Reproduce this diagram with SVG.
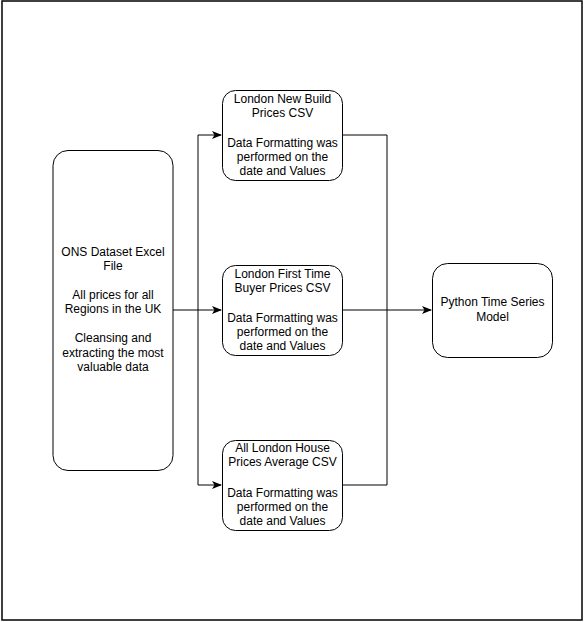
<svg xmlns="http://www.w3.org/2000/svg" width="585" height="622" viewBox="0 0 585 622">
<style>
.n{fill:#fff;stroke:#000;stroke-width:1}
.t{font-family:"Liberation Sans",Arial,sans-serif;font-size:12px;fill:#000;text-anchor:middle}
.c{fill:none;stroke:#000;stroke-width:1}
</style>
<defs>
<marker id="a" markerWidth="10" markerHeight="8" refX="9" refY="4" orient="auto" markerUnits="userSpaceOnUse">
<path d="M0,0 L10,4 L0,8 L2.5,4 Z" fill="#000"/>
</marker>
</defs>
<rect x="2" y="1" width="580" height="619" fill="#fff" stroke="#000" stroke-width="1.5"/>
<g id="connectors">
<path class="c" d="M173,310 H198"/>
<path class="c" d="M198,135 V485"/>
<path class="c" d="M198,135 H221" marker-end="url(#a)"/>
<path class="c" d="M198,310 H221" marker-end="url(#a)"/>
<path class="c" d="M198,485 H221" marker-end="url(#a)"/>
<path class="c" d="M342,135 H387 V485 H342"/>
<path class="c" d="M342,310 H431" marker-end="url(#a)"/>
</g>
<g id="ons">
<rect class="n" x="53" y="150.5" width="120" height="320" rx="15"/>
<text class="t" x="113" y="256">ONS Dataset Excel</text>
<text class="t" x="113" y="270">File</text>
<text class="t" x="113" y="299">All prices for all</text>
<text class="t" x="113" y="313">Regions in the UK</text>
<text class="t" x="113" y="342">Cleansing and</text>
<text class="t" x="113" y="357">extracting the most</text>
<text class="t" x="113" y="371">valuable data</text>
</g>
<g id="newbuild">
<rect class="n" x="222.5" y="90.5" width="120" height="90" rx="13"/>
<text class="t" x="282.5" y="103">London New Build</text>
<text class="t" x="282.5" y="117">Prices CSV</text>
<text class="t" x="282.5" y="147">Data Formatting was</text>
<text class="t" x="282.5" y="161">performed on the</text>
<text class="t" x="282.5" y="175">date and Values</text>
</g>
<g id="firsttime">
<rect class="n" x="222.5" y="265.5" width="120" height="90" rx="13"/>
<text class="t" x="282.5" y="278">London First Time</text>
<text class="t" x="282.5" y="292">Buyer Prices CSV</text>
<text class="t" x="282.5" y="322">Data Formatting was</text>
<text class="t" x="282.5" y="336">performed on the</text>
<text class="t" x="282.5" y="350">date and Values</text>
</g>
<g id="average">
<rect class="n" x="222.5" y="440.5" width="120" height="90" rx="13"/>
<text class="t" x="282.5" y="452">All London House</text>
<text class="t" x="282.5" y="466">Prices Average CSV</text>
<text class="t" x="282.5" y="497">Data Formatting was</text>
<text class="t" x="282.5" y="511">performed on the</text>
<text class="t" x="282.5" y="525">date and Values</text>
</g>
<g id="python">
<rect class="n" x="432.5" y="263.5" width="120" height="94" rx="15"/>
<text class="t" x="492.5" y="306">Python Time Series</text>
<text class="t" x="492.5" y="321">Model</text>
</g>
</svg>
